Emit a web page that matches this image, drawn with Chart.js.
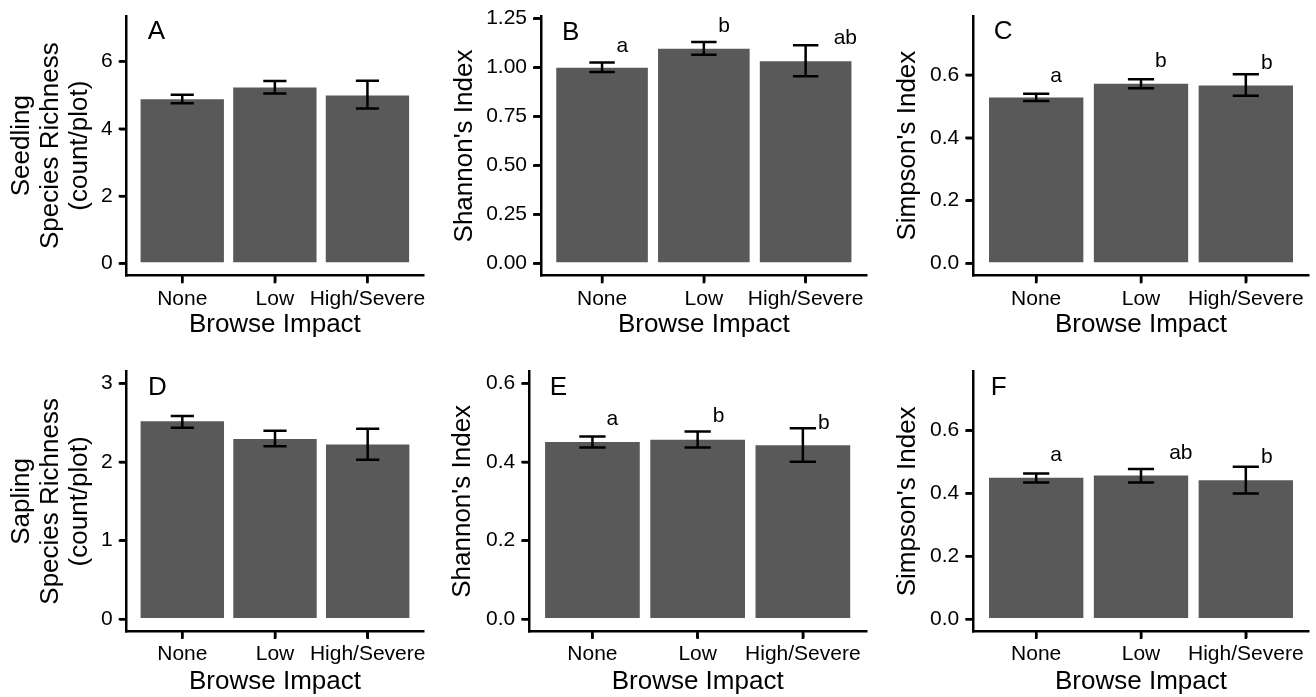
<!DOCTYPE html>
<html>
<head>
<meta charset="utf-8">
<script src="https://cdn.jsdelivr.net/npm/chart.js@4.4.1/dist/chart.umd.min.js"></script>
<style>
  html, body { margin: 0; padding: 0; background: #ffffff; width: 1316px; height: 697px; overflow: hidden; }
  canvas { position: absolute; }
</style>
</head>
<body>
<canvas id="cA"></canvas>
<canvas id="cB"></canvas>
<canvas id="cC"></canvas>
<canvas id="cD"></canvas>
<canvas id="cE"></canvas>
<canvas id="cF"></canvas>
<script>
// ---------------- DATA ----------------
const categories = ['None', 'Low', 'High/Severe'];
const xTitle = 'Browse Impact';

// A: Seedling species richness
const seedRichMean = [4.88, 5.23, 4.99];
const seedRichLow  = [4.76, 5.05, 4.60];
const seedRichHigh = [5.01, 5.42, 5.43];
const seedRichTicks = [0, 2, 4, 6];

// B: Seedling Shannon's index
const seedShanMean = [1.000, 1.097, 1.032];
const seedShanLow  = [0.978, 1.066, 0.956];
const seedShanHigh = [1.026, 1.131, 1.114];
const seedShanTicks = [0, 0.25, 0.5, 0.75, 1.0, 1.25];
const seedShanLetters = ['a', 'b', 'ab'];
const seedShanLetterY = [1.080, 1.182, 1.119];
const seedShanLetterDx = [0.20, 0.20, 0.39];

// C: Seedling Simpson's index
const seedSimpMean = [0.528, 0.572, 0.566];
const seedSimpLow  = [0.517, 0.558, 0.534];
const seedSimpHigh = [0.540, 0.586, 0.602];
const seedSimpTicks = [0, 0.2, 0.4, 0.6];
const seedSimpLetters = ['a', 'b', 'b'];
const seedSimpLetterY = [0.579, 0.626, 0.619];
const seedSimpLetterDx = [0.19, 0.19, 0.20];

// D: Sapling species richness
const sapRichMean = [2.519, 2.293, 2.225];
const sapRichLow  = [2.438, 2.200, 2.030];
const sapRichHigh = [2.587, 2.400, 2.425];
const sapRichTicks = [0, 1, 2, 3];

// E: Sapling Shannon's index
const sapShanMean = [0.451, 0.457, 0.443];
const sapShanLow  = [0.437, 0.437, 0.401];
const sapShanHigh = [0.465, 0.478, 0.486];
const sapShanTicks = [0, 0.2, 0.4, 0.6];
const sapShanLetters = ['a', 'b', 'b'];
const sapShanLetterY = [0.4935, 0.502, 0.485];
const sapShanLetterDx = [0.19, 0.20, 0.20];

// F: Sapling Simpson's index
const sapSimpMean = [0.450, 0.457, 0.442];
const sapSimpLow  = [0.435, 0.435, 0.400];
const sapSimpHigh = [0.464, 0.478, 0.485];
const sapSimpTicks = [0, 0.2, 0.4, 0.6];
const sapSimpLetters = ['a', 'ab', 'b'];
const sapSimpLetterY = [0.504, 0.510, 0.496];
const sapSimpLetterDx = [0.19, 0.38, 0.20];

// ---------------- STYLE / LAYOUT ----------------
const FONT = "'Liberation Sans', Arial, Helvetica, sans-serif";
const BAR_COLOR = '#595959';
const INK = '#000000';
const TICK_LEN = 7;

const panels = [
  { id: 'cA', tag: 'A', left: 0,   top: 0,   w: 440, h: 340, yAxisW: 126.7, padTop: 16,   padRight: 17,  xAxisH: 64.7, titlePad: 7.1,
    yTitle: ['Seedling', 'Species Richness', '(count/plot)'], mean: seedRichMean, lo: seedRichLow, hi: seedRichHigh,
    ticks: seedRichTicks, dec: 0, yMin: -0.35, yMax: 7.35, tagDx: 21 },
  { id: 'cB', tag: 'B', left: 440, top: 0,   w: 436, h: 340, yAxisW: 101,   padTop: 16.7, padRight: 9.3, xAxisH: 64.7, titlePad: 10.4,
    yTitle: "Shannon's Index", mean: seedShanMean, lo: seedShanLow, hi: seedShanHigh,
    ticks: seedShanTicks, dec: 2, yMin: -0.06, yMax: 1.26, tagDx: 21,
    letters: seedShanLetters, letterY: seedShanLetterY, letterDx: seedShanLetterDx },
  { id: 'cC', tag: 'C', left: 876, top: 0,   w: 440, h: 340, yAxisW: 97.3,  padTop: 16,   padRight: 7.3, xAxisH: 64.7, titlePad: 17.1,
    yTitle: "Simpson's Index", mean: seedSimpMean, lo: seedSimpLow, hi: seedSimpHigh,
    ticks: seedSimpTicks, dec: 1, yMin: -0.0375, yMax: 0.7875, tagDx: 20.5,
    letters: seedSimpLetters, letterY: seedSimpLetterY, letterDx: seedSimpLetterDx },
  { id: 'cD', tag: 'D', left: 0,   top: 340, w: 440, h: 357, yAxisW: 126.7, padTop: 31.7, padRight: 16.7, xAxisH: 66, titlePad: 7.1,
    yTitle: ['Sapling', 'Species Richness', '(count/plot)'], mean: sapRichMean, lo: sapRichLow, hi: sapRichHigh,
    ticks: sapRichTicks, dec: 0, yMin: -0.15, yMax: 3.15, tagDx: 21.3 },
  { id: 'cE', tag: 'E', left: 440, top: 340, w: 436, h: 357, yAxisW: 89.3,  padTop: 31.7, padRight: 10,  xAxisH: 66, titlePad: 8.7,
    yTitle: "Shannon's Index", mean: sapShanMean, lo: sapShanLow, hi: sapShanHigh,
    ticks: sapShanTicks, dec: 1, yMin: -0.03, yMax: 0.63, tagDx: 20.4,
    letters: sapShanLetters, letterY: sapShanLetterY, letterDx: sapShanLetterDx },
  { id: 'cF', tag: 'F', left: 876, top: 340, w: 440, h: 357, yAxisW: 97.3,  padTop: 31.7, padRight: 7.3, xAxisH: 66, titlePad: 17.1,
    yTitle: "Simpson's Index", mean: sapSimpMean, lo: sapSimpLow, hi: sapSimpHigh,
    ticks: sapSimpTicks, dec: 1, yMin: -0.0375, yMax: 0.7875, tagDx: 17.5,
    letters: sapSimpLetters, letterY: sapSimpLetterY, letterDx: sapSimpLetterDx }
];

function makeOverlay(p) {
  return {
    id: 'overlay' + p.tag,
    afterDatasetsDraw(chart) {
      const ctx = chart.ctx;
      const xs = chart.scales.x, ys = chart.scales.y;
      const ca = chart.chartArea;
      ctx.save();
      // error bars
      ctx.strokeStyle = INK;
      ctx.lineWidth = 2.5;
      ctx.lineCap = 'butt';
      p.lo.forEach((lo, i) => {
        const cx = xs.getPixelForValue(i + 1);
        const half = xs.getPixelForValue(i + 1 + 0.125) - cx;
        const yl = ys.getPixelForValue(lo);
        const yh = ys.getPixelForValue(p.hi[i]);
        ctx.beginPath();
        ctx.moveTo(cx, yl); ctx.lineTo(cx, yh);
        ctx.moveTo(cx - half, yl); ctx.lineTo(cx + half, yl);
        ctx.moveTo(cx - half, yh); ctx.lineTo(cx + half, yh);
        ctx.stroke();
      });
      // significance letters
      if (p.letters) {
        ctx.fillStyle = INK;
        ctx.font = '21px ' + FONT;
        ctx.textAlign = 'center';
        ctx.textBaseline = 'alphabetic';
        p.letters.forEach((t, i) => {
          ctx.fillText(t, xs.getPixelForValue(i + 1 + p.letterDx[i]), ys.getPixelForValue(p.letterY[i]));
        });
      }
      // panel tag
      ctx.fillStyle = INK;
      ctx.font = '26px ' + FONT;
      ctx.textAlign = 'left';
      ctx.textBaseline = 'alphabetic';
      ctx.fillText(p.tag, ca.left + p.tagDx, ca.top + 23);
      ctx.restore();
    },
    afterDraw(chart) {
      // axis tick marks at category centres and at y ticks
      const ctx = chart.ctx;
      const xs = chart.scales.x, ys = chart.scales.y;
      const ca = chart.chartArea;
      ctx.save();
      ctx.fillStyle = INK;
      categories.forEach((c, i) => {
        const px = xs.getPixelForValue(i + 1);
        ctx.fillRect(px - 1.25, ca.bottom, 2.5, TICK_LEN + 1);
      });
      p.ticks.forEach(v => {
        const py = ys.getPixelForValue(v);
        ctx.fillRect(ca.left - TICK_LEN - 1, py - 1.25, TICK_LEN + 1, 2.5);
      });
      ctx.restore();
    }
  };
}

panels.forEach(p => {
  const cv = document.getElementById(p.id);
  cv.width = p.w; cv.height = p.h;
  cv.style.left = p.left + 'px'; cv.style.top = p.top + 'px';
  cv.style.width = p.w + 'px'; cv.style.height = p.h + 'px';

  const axisBorder = { display: true, color: INK, width: 2.5 };

  new Chart(cv.getContext('2d'), {
    type: 'bar',
    data: {
      datasets: [{
        data: p.mean.map((v, i) => ({ x: i + 1, y: v })),
        backgroundColor: BAR_COLOR,
        borderWidth: 0,
        barPercentage: 0.9,
        categoryPercentage: 1.0
      }]
    },
    options: {
      responsive: false,
      animation: false,
      devicePixelRatio: 1,
      layout: { padding: { top: p.padTop, right: p.padRight, left: 0, bottom: 0 } },
      plugins: { legend: { display: false }, tooltip: { enabled: false } },
      scales: {
        x: {
          type: 'linear', min: 0.4, max: 3.6, bounds: 'data', offset: false,
          afterBuildTicks: s => { s.ticks = categories.map((c, i) => ({ value: i + 1 })); },
          afterFit: s => { s.height = p.xAxisH; s.paddingLeft = 0; s.paddingRight = 0; },
          ticks: {
            callback: v => categories[Math.round(v) - 1],
            font: { family: FONT, size: 21 }, color: INK, padding: 4,
            maxRotation: 0, minRotation: 0, autoSkip: false
          },
          grid: { offset: false, drawOnChartArea: false, drawTicks: true, tickLength: TICK_LEN, lineWidth: 2.5, color: INK },
          border: axisBorder,
          title: { display: true, text: xTitle, color: INK,
                   font: { family: FONT, size: 26, lineHeight: 1.15 }, padding: { top: 0, bottom: 0 } }
        },
        y: {
          type: 'linear', min: p.yMin, max: p.yMax, bounds: 'data',
          afterBuildTicks: s => { s.ticks = p.ticks.map(v => ({ value: v })); },
          afterFit: s => { s.width = p.yAxisW; s.paddingTop = 0; s.paddingBottom = 0; },
          ticks: {
            callback: v => Number(v).toFixed(p.dec),
            font: { family: FONT, size: 21 }, color: INK, padding: 7
          },
          grid: { offset: false, drawOnChartArea: false, drawTicks: true, tickLength: TICK_LEN, lineWidth: 2.5, color: INK },
          border: axisBorder,
          title: { display: true, text: p.yTitle, color: INK,
                   font: { family: FONT, size: 26, lineHeight: 1.12 }, padding: { top: p.titlePad, bottom: 0 } }
        }
      }
    },
    plugins: [makeOverlay(p)]
  });
});
</script>
</body>
</html>
